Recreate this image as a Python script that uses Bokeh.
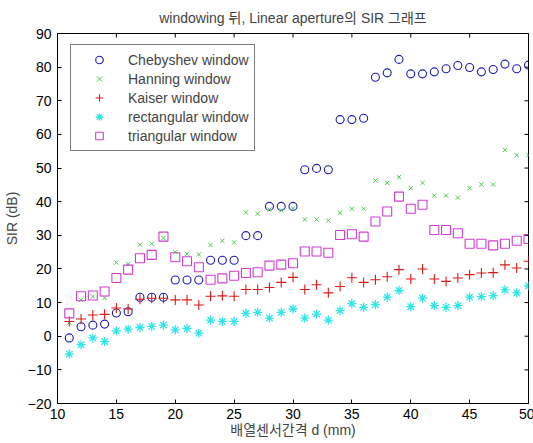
import math
from bokeh.plotting import figure
from bokeh.models import FixedTicker, Legend, LegendItem, Range1d
from bokeh.embed import file_html
from bokeh.resources import INLINE

d = list(range(11, 51))

chebyshev = [-0.5, 2.8, 3.3, 3.6, 6.9, 7.3, 11.6, 11.6, 11.6, 16.7,
             16.7, 16.7, 22.6, 22.6, 22.6, 29.9, 29.9, 38.6, 38.6, 38.6,
             49.5, 49.9, 49.5, 64.4, 64.4, 64.8, 77.0, 78.3, 82.3, 78.0,
             78.0, 78.6, 79.5, 80.5, 79.9, 78.6, 79.3, 80.9, 79.5, 80.6]
hanning = [4.0, 10.8, 11.8, 11.4, 21.9, 21.5, 27.2, 27.5, 29.2, 25.0,
           24.5, 24.3, 27.1, 28.4, 27.9, 36.8, 36.4, 37.7, 37.4, 38.0,
           34.7, 34.7, 34.4, 36.7, 37.9, 37.9, 46.3, 45.6, 47.3, 44.0,
           45.6, 41.8, 41.8, 41.2, 44.0, 45.1, 45.1, 55.4, 53.8, 53.8]
kaiser = [4.4, 5.1, 6.3, 6.5, 8.4, 8.1, 11.0, 11.3, 11.3, 10.8,
          10.8, 9.3, 11.9, 12.0, 11.9, 13.9, 13.9, 14.5, 16.0, 17.5,
          13.9, 15.3, 12.9, 14.8, 17.4, 16.0, 16.8, 17.7, 19.8, 17.0,
          20.0, 17.0, 16.3, 17.3, 18.3, 18.8, 18.9, 21.2, 20.3, 22.3]
rectangular = [-5.3, -2.5, -0.5, -1.6, 1.6, 2.1, 2.6, 2.9, 3.3, 1.9,
               2.3, 0.9, 4.8, 4.4, 4.4, 6.8, 7.1, 5.4, 7.1, 8.1,
               5.4, 6.6, 4.8, 7.6, 9.7, 8.6, 9.4, 11.6, 13.6, 8.8,
               11.3, 9.1, 8.6, 9.1, 11.6, 11.8, 12.1, 13.8, 12.9, 15.0]
triangular = [6.8, 11.9, 12.1, 13.3, 17.3, 19.8, 23.2, 24.2, 29.6, 23.5,
              22.3, 20.5, 16.8, 17.2, 18.0, 18.8, 19.0, 21.0, 21.3, 21.7,
              25.2, 25.2, 24.8, 30.1, 30.3, 29.6, 34.1, 37.1, 41.5, 37.9,
              39.1, 31.6, 31.6, 30.6, 27.5, 27.5, 27.0, 27.5, 28.4, 28.9]

x_ticks = [10, 15, 20, 25, 30, 35, 40, 45, 50]
y_ticks = [-20, -10, 0, 10, 20, 30, 40, 50, 60, 70, 80, 90]

title_text = "windowing 뒤, Linear aperture의 SIR 그래프"
x_label = "배열센서간격 d (mm)"
y_label = "SIR (dB)"

FONT = "Liberation Sans, Noto Sans CJK KR"
FS = "14px"

x_min, x_max = x_ticks[0], x_ticks[-1]
y_min, y_max = y_ticks[0], y_ticks[-1]

p = figure(frame_width=471, frame_height=370, output_backend="svg",
           toolbar_location=None, x_range=Range1d(x_min, x_max), y_range=Range1d(y_min, y_max),
           min_border_left=56, min_border_top=33, min_border_right=6, min_border_bottom=38,
           title=title_text)
p.title.align = "center"
p.title.text_font = FONT
p.title.text_font_size = FS
p.title.text_font_style = "normal"
p.title.standoff = 15
p.xgrid.visible = False
p.ygrid.visible = False
p.outline_line_color = "black"
p.outline_line_width = 1
p.background_fill_color = "white"
p.border_fill_color = "white"

for ax in p.xaxis:
    ax.ticker = FixedTicker(ticks=x_ticks)
    ax.axis_label = x_label
    ax.major_label_standoff = 5
    ax.axis_label_standoff = 0
for ax in p.yaxis:
    ax.ticker = FixedTicker(ticks=y_ticks)
    ax.axis_label = y_label
    ax.major_label_standoff = 6
    ax.axis_label_standoff = 5

for ax in list(p.xaxis) + list(p.yaxis):
    ax.major_tick_in = 4
    ax.major_tick_out = 0
    ax.minor_tick_in = 0
    ax.minor_tick_out = 0
    ax.major_label_text_font = FONT
    ax.major_label_text_font_size = FS
    ax.major_label_text_color = "black"
    ax.axis_label_text_font = FONT
    ax.axis_label_text_font_size = FS
    ax.axis_label_text_font_style = "normal"
    ax.axis_line_color = "black"

# inward ticks on the top and right edges of the box (clipped to the frame)
p.scatter([x_max] * len(y_ticks), y_ticks, marker="dash", size=8, line_color="black", line_width=1)
p.scatter(x_ticks, [y_max] * len(x_ticks), marker="dash", size=8, angle=math.pi / 2,
          line_color="black", line_width=1)

r1 = p.scatter(d, chebyshev, marker="circle", size=8, fill_color=None,
               line_color="#1c1cb0", line_width=1.1)
r2 = p.scatter(d, hanning, marker="x", size=6, line_color="#4cc84c", line_width=1)
r3 = p.scatter(d, kaiser, marker="cross", size=10, line_color="#e01818", line_width=1.1)
r4 = p.scatter(d, rectangular, marker="asterisk", size=9, line_color="#2ee6e6", line_width=1.3)
r5 = p.scatter(d, triangular, marker="square", size=9, fill_color=None,
               line_color="#d23cd2", line_width=1.1)

legend = Legend(items=[
    LegendItem(label="Chebyshev window", renderers=[r1]),
    LegendItem(label="Hanning window", renderers=[r2]),
    LegendItem(label="Kaiser window", renderers=[r3]),
    LegendItem(label="rectangular window", renderers=[r4]),
    LegendItem(label="triangular window", renderers=[r5]),
], location=(13, 252))
legend.glyph_width = 46
legend.glyph_height = 19
legend.label_height = 19
legend.label_standoff = 6
legend.spacing = 0
legend.padding = 5
legend.margin = 0
legend.border_line_color = "black"
legend.border_line_width = 1
legend.background_fill_color = "white"
legend.background_fill_alpha = 1
legend.label_text_font = FONT
legend.label_text_font_size = FS
p.add_layout(legend)

open("out.html", "w").write(file_html(p, INLINE))
